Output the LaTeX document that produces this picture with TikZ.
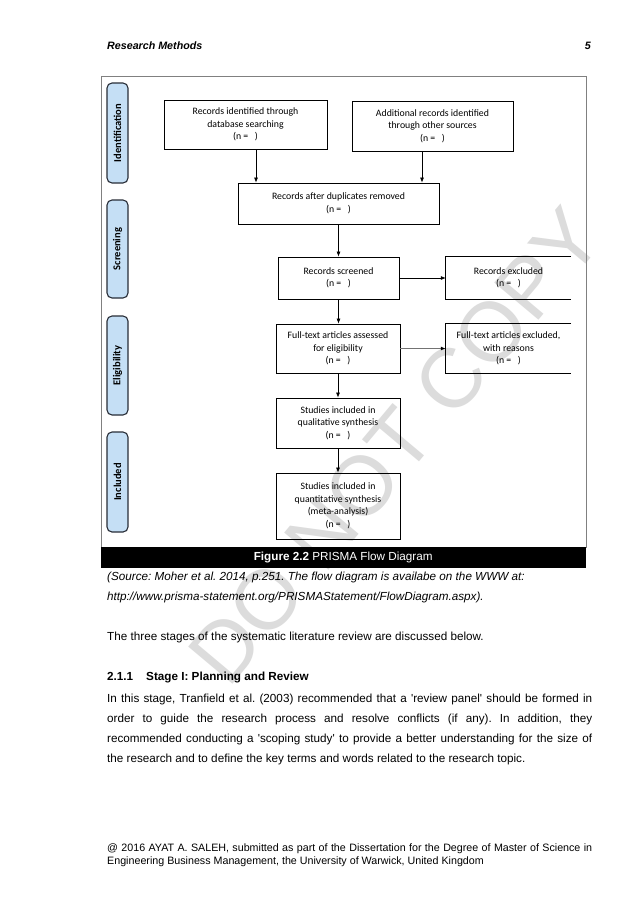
\documentclass[tikz,border=0pt]{standalone}
\usepackage{fontspec}
\setmainfont{Liberation Sans}
\newfontfamily\calfont{Carlito}
\usetikzlibrary{arrows.meta}
\definecolor{sidecol}{RGB}{197,223,245}
\definecolor{sideborder}{RGB}{40,45,55}
\definecolor{wmark}{RGB}{220,220,220}
\begin{document}
\frenchspacing
\begin{tikzpicture}[x=1pt,y=-1pt,
  pbox/.style={draw=black, line width=0.8pt, inner sep=0pt, align=center,
    font=\calfont\fontsize{9.8}{12.5}\selectfont},
  openbox/.style={inner sep=0pt, align=center,
    font=\calfont\fontsize{9.8}{12.5}\selectfont},
  side/.style={draw=sideborder, line width=1.1pt, fill=sidecol, rounded corners=5pt,
    rotate=90, inner sep=0pt, font=\calfont\bfseries\fontsize{10.5}{10.5}\selectfont},
  arr/.style={line width=0.7pt, -{Latex[length=5pt,width=4pt]}},
  garr/.style={draw=black!55, line width=1.5pt, -{Latex[length=5pt,width=4pt,color=black]}},
  body/.style={anchor=base west, inner sep=0pt, font=\fontsize{11.7}{14}\selectfont},
  ibody/.style={body, font=\itshape\fontsize{11.7}{14}\selectfont},
  foot/.style={anchor=base west, inner sep=0pt, font=\fontsize{10.7}{12}\selectfont}]
\useasboundingbox (0,0) rectangle (638,903);
\fill[white] (0,0) rectangle (638,903);
% watermark
\node[rotate=50, text=wmark, inner sep=0pt, font=\fontsize{84}{84}\selectfont] (wm) at (395,446) {DO NOT COPY};
% header
\node[anchor=base west, inner sep=0pt, font=\bfseries\itshape\fontsize{10.7}{12}\selectfont] (hdr) at (107,49) {Research Methods};
\node[anchor=base east, inner sep=0pt, font=\bfseries\itshape\fontsize{10.7}{12}\selectfont] (pg) at (591,49) {5};
% frame
\draw[black!50, line width=1pt] (101,76) rectangle (586,547);
\node[fill=black, anchor=north west, minimum width=485pt, minimum height=21pt, inner sep=0pt] (bar) at (100.5,547) {};
\node[text=white, inner sep=0pt, font=\fontsize{11.7}{12}\selectfont] (capt) at (bar.center) {\textbf{Figure 2.2} PRISMA Flow Diagram};
% side labels
\node[side, minimum width=100pt, minimum height=21pt] (sid) at (117.5,133) {Identification};
\node[side, minimum width=98pt, minimum height=21pt] (sscr) at (117.5,249) {Screening};
\node[side, minimum width=99pt, minimum height=21pt] (sel) at (117.5,365.5) {Eligibility};
\node[side, minimum width=100pt, minimum height=21pt] (sinc) at (117.5,482) {Included};
% boxes
\node[pbox, minimum width=163pt, minimum height=49pt] (b1) at (245.5,124.5) {Records identified through\\database searching\\(n = \ \ )};
\node[pbox, minimum width=161pt, minimum height=50pt] (b2) at (432.5,126) {Additional records identified\\through other sources\\(n = \ \ )};
\node[pbox, minimum width=201pt, minimum height=41pt] (b3) at (338.5,203.5) {Records after duplicates removed\\(n = \ \ )};
\node[pbox, minimum width=121pt, minimum height=42pt] (b4) at (338.5,278) {Records screened\\(n = \ \ )};
\node[openbox, minimum width=125pt, minimum height=42pt] (b5) at (508.5,278) {Records excluded\\(n = \ \ )};
\node[pbox, minimum width=124pt, minimum height=49pt] (b6) at (338,348.5) {Full-text articles assessed\\for eligibility\\(n = \ \ )};
\node[openbox, minimum width=125pt, minimum height=49pt] (b7) at (508.5,348.5) {Full-text articles excluded,\\with reasons\\(n = \ \ )};
\node[pbox, minimum width=124pt, minimum height=50pt] (b8) at (338,423) {Studies included in\\qualitative synthesis\\(n = \ \ )};
\node[pbox, minimum width=124pt, minimum height=66pt] (b9) at (338,506) {Studies included in\\quantitative synthesis\\(meta-analysis)\\(n = \ \ )};
\draw[line width=0.8pt] (b5.north east) -- (b5.north west) -- (b5.south west) -- (b5.south east);
\draw[line width=0.8pt] (b7.north east) -- (b7.north west) -- (b7.south west) -- (b7.south east);
% connectors
\coordinate (s1) at ([xshift=10.5pt]b1.south);
\draw[arr] (s1) -- (s1 |- b3.north);
\coordinate (s2) at ([xshift=-10.5pt]b2.south);
\draw[arr] (s2) -- (s2 |- b3.north);
\draw[arr] (b3.south) -- (b3.south |- b4.north);
\draw[arr] (b4.south) -- (b4.south |- b6.north);
\draw[arr] (b6.south) -- (b6.south |- b8.north);
\draw[arr] (b8.south) -- (b8.south |- b9.north);
\draw[arr] (b4.east) -- (b5.west);
\draw[garr] (b6.east) -- (b7.west);
% text below
\node[ibody] (src1) at (107,580) {(Source: Moher et al. 2014, p.251. The flow diagram is availabe on the WWW at:};
\node[ibody] (src2) at (107,600) {http://www.prisma-statement.org/PRISMAStatement/FlowDiagram.aspx).};
\node[body] (intro) at (107,640) {The three stages of the systematic literature review are discussed below.};
\node[body, font=\bfseries\fontsize{11.7}{14}\selectfont] (hnum) at (107,680) {2.1.1};
\node[body, font=\bfseries\fontsize{11.7}{14}\selectfont] (htxt) at (146,680) {Stage I: Planning and Review};
\node[body] (p1) at (107,702) {\makebox[485pt][s]{In this stage, Tranfield et al. (2003) recommended that a \textquotesingle review panel\textquotesingle\ should be formed in}};
\node[body] (p2) at (107,722) {\makebox[485pt][s]{order to guide the research process and resolve conflicts (if any). In addition, they}};
\node[body] (p3) at (107,742) {\makebox[485pt][s]{recommended conducting a \textquotesingle scoping study\textquotesingle\ to provide a better understanding for the size of}};
\node[body] (p4) at (107,762) {the research and to define the key terms and words related to the research topic.};
\node[foot] (f1) at (107,851) {\makebox[485pt][s]{@ 2016 AYAT A. SALEH, submitted as part of the Dissertation for the Degree of Master of Science in}};
\node[foot] (f2) at (107,864) {Engineering Business Management, the University of Warwick, United Kingdom};
\end{tikzpicture}
\end{document}
